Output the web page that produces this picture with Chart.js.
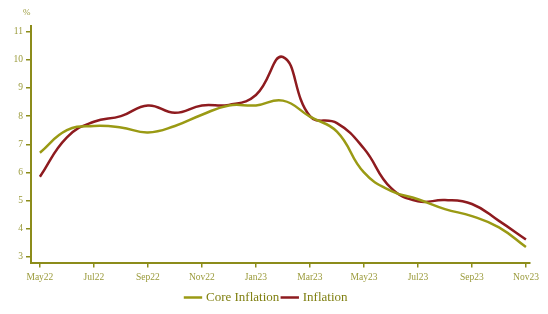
<!DOCTYPE html>
<html>
<head>
<meta charset="utf-8">
<script src="https://cdn.jsdelivr.net/npm/chart.js@4"></script>
<style>
  html, body { margin: 0; padding: 0; background: #fff; }
  #wrap { width: 548px; height: 314px; position: relative; }
</style>
</head>
<body>
<div id="wrap"><canvas id="inflationChart"></canvas></div>
<script>
// monthly readings, May22 .. Nov23
const months = ["May22", "Jun22", "Jul22", "Aug22", "Sep22", "Oct22", "Nov22", "Dec22", "Jan23", "Feb23",
                "Mar23", "Apr23", "May23", "Jun23", "Jul23", "Aug23", "Sep23", "Oct23", "Nov23"];
const coreInflation = [6.7, 7.5, 7.65, 7.6, 7.42, 7.65, 8.05, 8.38, 8.38, 8.55,
                       7.98, 7.45, 6.0, 5.35, 5.05, 4.7, 4.45, 4.05, 3.35];
const inflation = [5.85, 7.25, 7.8, 8.0, 8.38, 8.12, 8.38, 8.4, 8.75, 10.1,
                   8.0, 7.75, 6.85, 5.45, 4.98, 5.02, 4.88, 4.28, 3.62];
const yTicks = [3, 4, 5, 6, 7, 8, 9, 10, 11];
const xTickEvery = 2;

const olive = "#9a9a14";
const axisColor = "#8c8c1a";
const labelColor = "#9a9a3a";
const serif = "'Liberation Serif', 'DejaVu Serif', serif";

const unitLabel = {
    id: "unitLabel",
    afterDraw(chart) {
        const ctx = chart.ctx;
        ctx.save();
        ctx.font = "9px " + serif;
        ctx.fillStyle = labelColor;
        ctx.textAlign = "left";
        ctx.textBaseline = "middle";
        ctx.fillText("%", 23, 13);
        ctx.restore();
    }
};

let chartEl = document.getElementById("inflationChart");
let inflationChart = new Chart(chartEl, {
    type: "line",
    data: {
        datasets: [{
            label: "Core Inflation",
            data: coreInflation.map((v, i) => ({ x: i, y: v })),
            borderColor: olive,
            backgroundColor: olive,
            borderWidth: 2.5,
            tension: 0.45,
            pointRadius: 0
        }, {
            label: "Inflation",
            data: inflation.map((v, i) => ({ x: i, y: v })),
            borderColor: "#8e1b1f",
            backgroundColor: "#8e1b1f",
            borderWidth: 2.5,
            tension: 0.45,
            pointRadius: 0
        }]
    },
    options: {
        responsive: true,
        maintainAspectRatio: false,
        animation: false,
        layout: {
            padding: { top: 26, right: 18, left: 4, bottom: 0 }
        },
        scales: {
            x: {
                type: "linear",
                min: -0.33,
                max: 18.15,
                afterBuildTicks(axis) {
                    axis.ticks = months.map((m, i) => ({ value: i })).filter(t => t.value % xTickEvery === 0);
                },
                grid: {
                    drawOnChartArea: false,
                    color: axisColor,
                    tickLength: 5,
                    lineWidth: 1.5
                },
                border: { color: axisColor, width: 2 },
                ticks: {
                    color: labelColor,
                    font: { family: serif, size: 9.5 },
                    maxRotation: 0,
                    padding: 4,
                    callback: function (value) {
                        return months[value];
                    }
                }
            },
            y: {
                min: 2.8,
                max: 11.2,
                afterBuildTicks(axis) {
                    axis.ticks = yTicks.map(v => ({ value: v }));
                },
                afterFit(axis) {
                    axis.width = 27;
                },
                grid: {
                    drawOnChartArea: false,
                    color: axisColor,
                    tickLength: 5,
                    lineWidth: 1.5
                },
                border: { color: axisColor, width: 2 },
                ticks: {
                    color: labelColor,
                    font: { family: serif, size: 9.5 },
                    padding: 3
                }
            }
        },
        plugins: {
            legend: {
                position: "bottom",
                labels: {
                    usePointStyle: true,
                    pointStyle: "line",
                    boxWidth: 14,
                    padding: 4,
                    color: "#7f7f10",
                    font: { family: serif, size: 13 }
                }
            },
            tooltip: { enabled: false }
        }
    },
    plugins: [unitLabel]
});
</script>
</body>
</html>
